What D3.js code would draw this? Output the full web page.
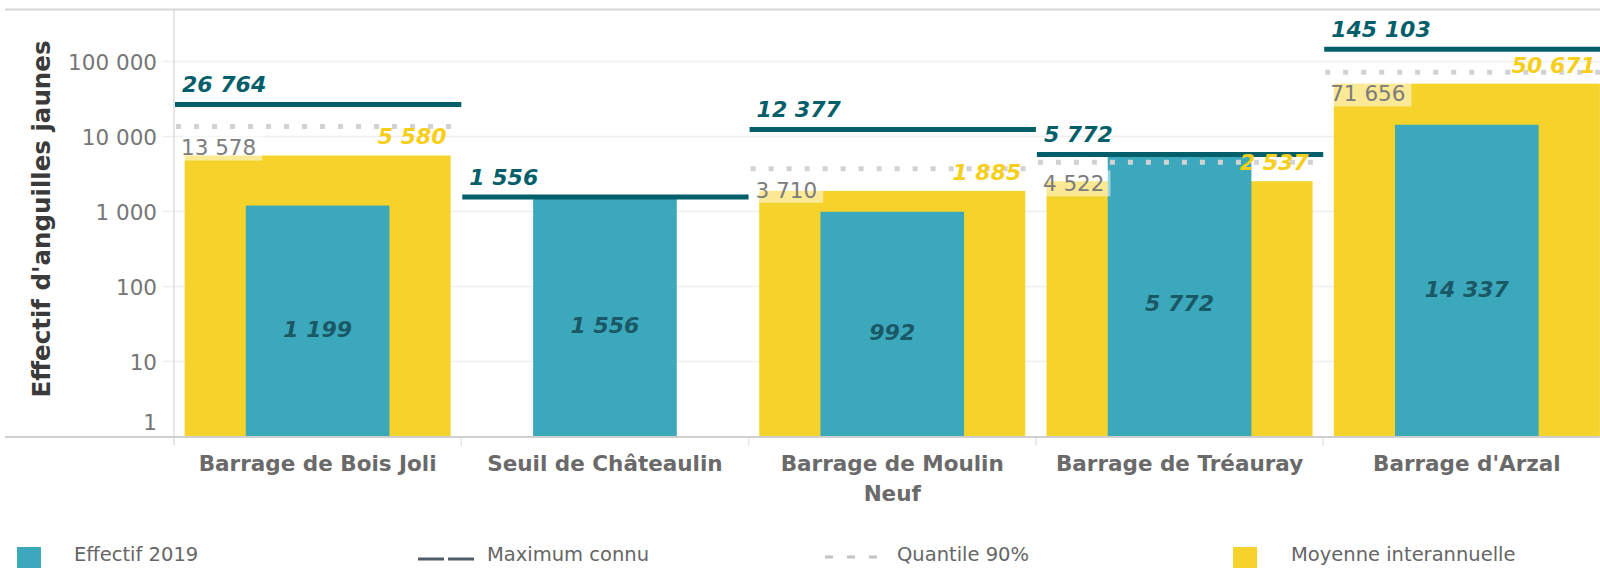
<!DOCTYPE html>
<html>
<head>
<meta charset="utf-8">
<script src="https://cdn.jsdelivr.net/npm/d3@7"></script>
<style>
  html, body { margin: 0; padding: 0; background: #fff; }
  svg { display: block; font-family: "DejaVu Sans", sans-serif; }
</style>
</head>
<body>
<svg id="chart" width="1600" height="568"></svg>
<script>
const categories = ["Barrage de Bois Joli", "Seuil de Châteaulin", "Barrage de Moulin Neuf", "Barrage de Tréauray", "Barrage d'Arzal"];
const effectif2019 = [1199, 1556, 992, 5772, 14337];
const maximumConnu = [26764, 1556, 12377, 5772, 145103];
const quantile90 = [13578, null, 3710, 4522, 71656];
const moyenneInterannuelle = [5580, null, 1885, 2537, 50671];
const yTicks = [1, 10, 100, 1000, 10000, 100000];
const yTitle = "Effectif d'anguilles jaunes";
const legendLabels = ["Effectif 2019", "Maximum connu", "Quantile 90%", "Moyenne interannuelle"];

const COL_TEAL = "#3ba8bc", COL_YELLOW = "#f6d32a", COL_DARK = "#045f6a";
const fr = d3.formatLocale({decimal: ",", thousands: " ", grouping: [3], currency: ["", " €"]});
const fmt = fr.format(",d");

const svg = d3.select("#chart");
const W = 1600;
const left = 174, baseY = 436.5, topY = 9;

const x = d3.scaleBand().domain(categories).range([left, left + 5 * 287.3]).padding(0);
const y = d3.scaleLog().domain([1, Math.pow(10, 5.7)]).range([baseY, topY]);
const bw = x.bandwidth();
const yellowW = bw * 0.926, tealW = bw * 0.5;

// top border
svg.append("line").attr("x1", 5).attr("x2", W).attr("y1", 9.5).attr("y2", 9.5)
  .attr("stroke", "#d6d6d6").attr("stroke-width", 2);

// gridlines
svg.append("g").selectAll("line").data(yTicks.filter(d => d > 1)).join("line")
  .attr("x1", 163).attr("x2", W).attr("y1", d => y(d)).attr("y2", d => y(d))
  .attr("stroke", "#eeeeee").attr("stroke-width", 1.5);

// y axis vertical line
svg.append("line").attr("x1", left).attr("x2", left).attr("y1", 10).attr("y2", 445)
  .attr("stroke", "#dcdcdc").attr("stroke-width", 1.5);

// category separators ticks
svg.append("g").selectAll("line").data(categories.slice(1)).join("line")
  .attr("x1", d => x(d)).attr("x2", d => x(d)).attr("y1", baseY).attr("y2", 446)
  .attr("stroke", "#e6e6e6").attr("stroke-width", 1.5);

// y tick labels
svg.append("g").selectAll("text").data(yTicks).join("text")
  .attr("x", 157).attr("y", d => Math.min(y(d), baseY - 15))
  .attr("dy", "0.38em").attr("text-anchor", "end")
  .attr("font-size", 21.5).attr("fill", "#767676")
  .text(d => fmt(d));

// y title
svg.append("text").attr("transform", "translate(50," + 219 + ") rotate(-90)")
  .attr("text-anchor", "middle").attr("font-size", 24.5).attr("font-weight", "bold")
  .attr("fill", "#3a3a3a").text(yTitle);

const rows = categories.map((c, i) => ({
  c, eff: effectif2019[i], max: maximumConnu[i], q: quantile90[i], moy: moyenneInterannuelle[i]
}));

// yellow bars
svg.append("g").selectAll("rect").data(rows.filter(d => d.moy != null)).join("rect")
  .attr("x", d => x(d.c) + (bw - yellowW) / 2).attr("width", yellowW)
  .attr("y", d => y(d.moy)).attr("height", d => baseY - y(d.moy))
  .attr("fill", COL_YELLOW);

// teal bars
svg.append("g").selectAll("rect").data(rows).join("rect")
  .attr("x", d => x(d.c) + (bw - tealW) / 2).attr("width", tealW)
  .attr("y", d => y(d.eff)).attr("height", d => baseY - y(d.eff))
  .attr("fill", COL_TEAL);

// baseline
svg.append("line").attr("x1", 5).attr("x2", W).attr("y1", baseY + 0.5).attr("y2", baseY + 0.5)
  .attr("stroke", "#cfcfcf").attr("stroke-width", 2);

// teal labels inside bars
svg.append("g").selectAll("text").data(rows).join("text")
  .attr("x", d => x(d.c) + bw / 2)
  .attr("y", d => (y(d.eff) + baseY) / 2 + 8).attr("dy", "0.36em")
  .attr("text-anchor", "middle").attr("font-size", 22).attr("font-weight", "bold")
  .attr("font-style", "italic").attr("fill", "#1b5866")
  .text(d => fmt(d.eff));

// quantile dotted lines
svg.append("g").selectAll("line").data(rows.filter(d => d.q != null)).join("line")
  .attr("x1", d => x(d.c) + 2).attr("x2", d => x(d.c) + bw - 8)
  .attr("y1", d => y(d.q)).attr("y2", d => y(d.q))
  .attr("stroke", "#d2d2d2").attr("stroke-width", 5).attr("stroke-dasharray", "5,13");

// quantile labels with translucent background
const qg = svg.append("g").selectAll("g").data(rows.filter(d => d.q != null)).join("g");
qg.each(function(d) {
  const g = d3.select(this);
  const tx = x(d.c) + 7, ty = y(d.q) + 21;
  const rect = g.append("rect").attr("fill", "#ffffff").attr("fill-opacity", 0.5);
  const t = g.append("text").attr("x", tx).attr("y", ty).attr("dy", "0.36em")
    .attr("font-size", 21.5).attr("fill", "#7c7c7c").text(fmt(d.q));
  const len = t.node().getComputedTextLength();
  rect.attr("x", tx + 2).attr("y", ty - 13).attr("width", len + 4).attr("height", 26);
});

// maximum lines
svg.append("g").selectAll("line").data(rows).join("line")
  .attr("x1", d => x(d.c) + 1).attr("x2", d => x(d.c) + bw)
  .attr("y1", d => y(d.max)).attr("y2", d => y(d.max))
  .attr("stroke", COL_DARK).attr("stroke-width", 5);

// maximum labels
svg.append("g").selectAll("text").data(rows).join("text")
  .attr("x", d => x(d.c) + 8).attr("y", d => y(d.max) - 20).attr("dy", "0.36em")
  .attr("font-size", 22).attr("font-weight", "bold").attr("font-style", "italic")
  .attr("fill", COL_DARK).text(d => fmt(d.max));

// moyenne labels
svg.append("g").selectAll("text").data(rows.filter(d => d.moy != null)).join("text")
  .attr("x", d => x(d.c) + (bw + yellowW) / 2 - 4).attr("y", d => y(d.moy) - 19).attr("dy", "0.36em")
  .attr("text-anchor", "end")
  .attr("font-size", 22).attr("font-weight", "bold").attr("font-style", "italic")
  .attr("fill", "#f5cf1c").text(d => fmt(d.moy));

// category labels with wrapping
const catG = svg.append("g");
categories.forEach(c => {
  const t = catG.append("text").attr("x", x(c) + bw / 2).attr("y", 463).attr("dy", "0.36em")
    .attr("text-anchor", "middle").attr("font-size", 21.5).attr("font-weight", "bold")
    .attr("fill", "#6a6a6a");
  const words = c.split(" ");
  let line = [];
  let ts = t.append("tspan").attr("x", x(c) + bw / 2).attr("dy", "0.36em");
  words.forEach(w => {
    line.push(w);
    ts.text(line.join(" "));
    if (ts.node().getComputedTextLength() > 272 && line.length > 1) {
      line.pop();
      ts.text(line.join(" "));
      line = [w];
      ts = t.append("tspan").attr("x", x(c) + bw / 2).attr("dy", 30).text(w);
    }
  });
});

// legend
const lg = svg.append("g").attr("font-size", 19.5).attr("fill", "#666");
const legY = 554;
lg.append("rect").attr("x", 17).attr("y", 547).attr("width", 24).attr("height", 24).attr("fill", COL_TEAL);
lg.append("text").attr("x", 74).attr("y", legY).attr("dy", "0.36em").text(legendLabels[0]);
lg.append("line").attr("x1", 418).attr("x2", 474).attr("y1", 559).attr("y2", 559)
  .attr("stroke", "#4f5d68").attr("stroke-width", 3).attr("stroke-dasharray", "26,4");
lg.append("text").attr("x", 487).attr("y", legY).attr("dy", "0.36em").text(legendLabels[1]);
lg.append("line").attr("x1", 825).attr("x2", 877).attr("y1", 557).attr("y2", 557)
  .attr("stroke", "#c4c4c4").attr("stroke-width", 3).attr("stroke-dasharray", "8,14");
lg.append("text").attr("x", 897).attr("y", legY).attr("dy", "0.36em").text(legendLabels[2]);
lg.append("rect").attr("x", 1233).attr("y", 547).attr("width", 24).attr("height", 24).attr("fill", COL_YELLOW);
lg.append("text").attr("x", 1291).attr("y", legY).attr("dy", "0.36em").text(legendLabels[3]);
</script>
</body>
</html>
